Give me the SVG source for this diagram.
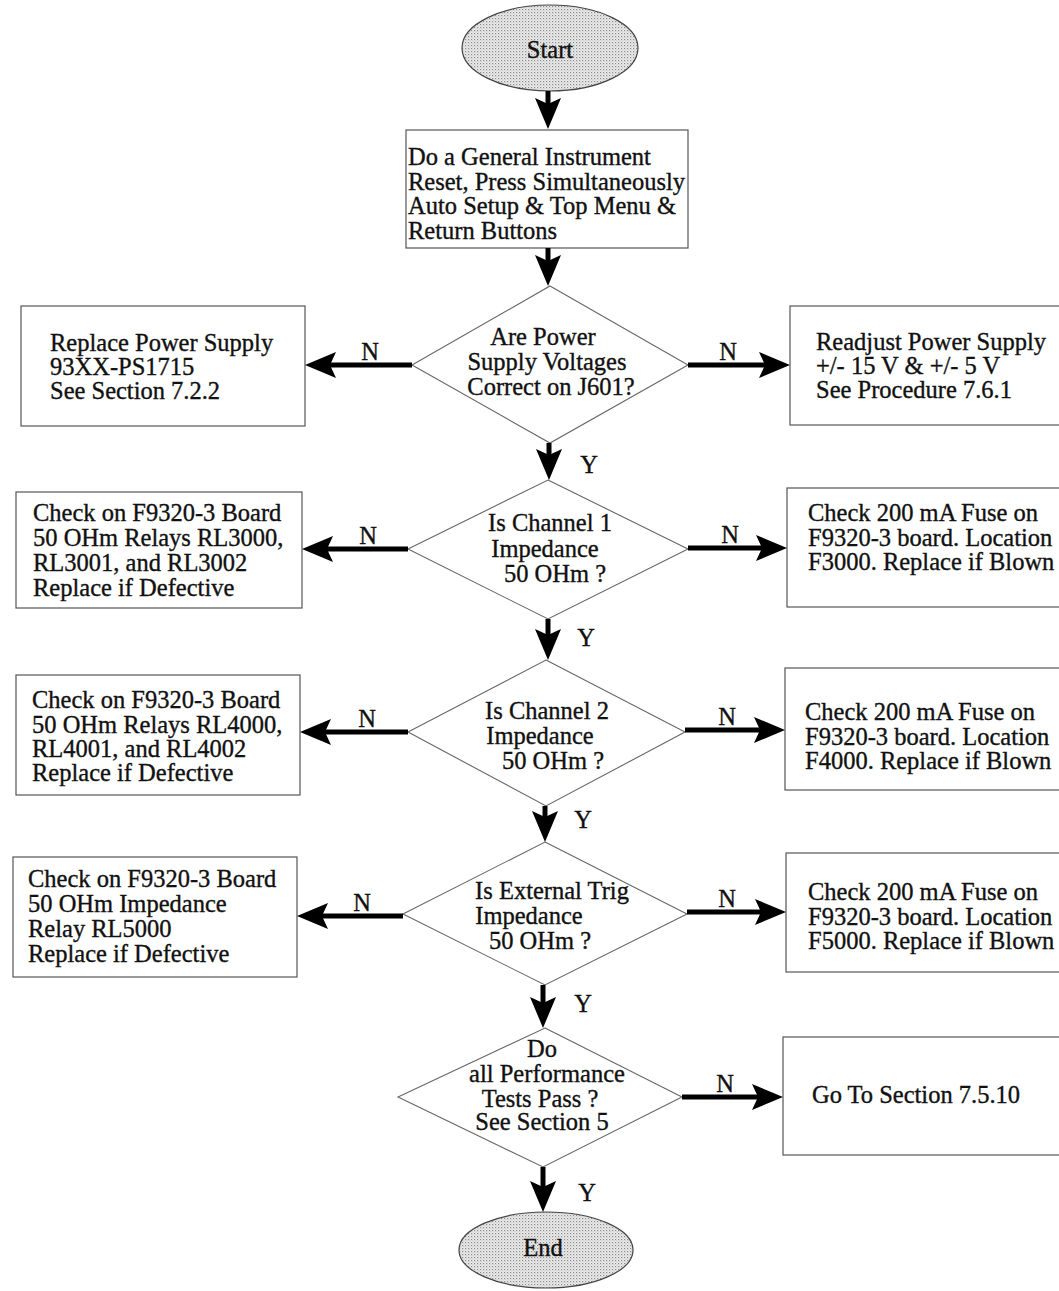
<svg xmlns="http://www.w3.org/2000/svg" width="1059" height="1291" viewBox="0 0 1059 1291">
<style>
  .t { font-family: "Liberation Serif", "Times New Roman", serif; font-size: 24.5px; fill: #111; stroke: #111; stroke-width: 0.35; }
  .c { text-anchor: middle; }
  .box { fill: #fff; stroke: #555; stroke-width: 1.2; }
  .dia { fill: #fff; stroke: #666; stroke-width: 1.1; }
  .term { fill: url(#dots); stroke: #444; stroke-width: 1.2; }
  .conn { stroke: #000; stroke-width: 5; fill: none; marker-end: url(#ah); }
  .lbl { font-family: "Liberation Serif", "Times New Roman", serif; font-size: 24.5px; fill: #111; stroke: #111; stroke-width: 0.35; text-anchor: middle; }
</style>
<defs>
  <pattern id="dots" width="3" height="3" patternUnits="userSpaceOnUse">
    <rect width="3" height="3" fill="#ececec"/>
    <rect width="1.2" height="1.2" fill="#8a8a8a"/>
    <rect x="1.5" y="1.5" width="1" height="1" fill="#b0b0b0"/>
  </pattern>
  <marker id="ah" markerUnits="userSpaceOnUse" viewBox="0 0 31 26" markerWidth="31" markerHeight="26" refX="11" refY="13" orient="auto">
    <path d="M0,0 L31,13 L0,26 L6,13 Z" fill="#000"/>
  </marker>
</defs>
<rect width="1059" height="1291" fill="#fff"/>

<g id="start">
  <ellipse class="term" cx="550" cy="48" rx="88" ry="43"/>
  <text class="t c" x="550" y="58">Start</text>
</g>

<g id="reset">
  <rect class="box" x="406" y="130" width="282" height="118"/>
  <text class="t" x="408" y="165">Do a General Instrument</text>
  <text class="t" x="408" y="190">Reset, Press Simultaneously</text>
  <text class="t" x="408" y="214">Auto Setup &amp; Top Menu &amp;</text>
  <text class="t" x="408" y="239">Return Buttons</text>
</g>

<g id="d1">
  <polygon class="dia" points="550,286 688,365 550,443 412,365"/>
  <text class="t c" x="543" y="345">Are Power</text>
  <text class="t c" x="547" y="370">Supply Voltages</text>
  <text class="t c" x="551" y="395">Correct on J601?</text>
</g>

<g id="ps-replace">
  <rect class="box" x="21" y="306" width="284" height="120"/>
  <text class="t" x="50" y="351">Replace Power Supply</text>
  <text class="t" x="50" y="375">93XX-PS1715</text>
  <text class="t" x="50" y="399">See Section 7.2.2</text>
</g>

<g id="ps-adjust">
  <rect class="box" x="790" y="306" width="275" height="119"/>
  <text class="t" x="816" y="350">Readjust Power Supply</text>
  <text class="t" x="816" y="374">+/- 15 V &amp; +/- 5 V</text>
  <text class="t" x="816" y="398">See Procedure 7.6.1</text>
</g>

<g id="d2">
  <polygon class="dia" points="548,480 688,549 548,619 408,549"/>
  <text class="t c" x="550" y="531">Is Channel 1</text>
  <text class="t c" x="545" y="557">Impedance</text>
  <text class="t c" x="555" y="582">50 OHm ?</text>
</g>

<g id="ch1-relays">
  <rect class="box" x="16" y="492" width="286" height="116"/>
  <text class="t" x="33" y="521">Check on F9320-3 Board</text>
  <text class="t" x="33" y="546">50 OHm Relays RL3000,</text>
  <text class="t" x="33" y="571">RL3001, and RL3002</text>
  <text class="t" x="33" y="596">Replace if Defective</text>
</g>

<g id="ch1-fuse">
  <rect class="box" x="787" y="488" width="280" height="119"/>
  <text class="t" x="808" y="521">Check 200 mA Fuse on</text>
  <text class="t" x="808" y="546">F9320-3 board. Location</text>
  <text class="t" x="808" y="570">F3000. Replace if Blown</text>
</g>

<g id="d3">
  <polygon class="dia" points="546,660 685,732 546,806 408,732"/>
  <text class="t c" x="547" y="719">Is Channel 2</text>
  <text class="t c" x="540" y="744">Impedance</text>
  <text class="t c" x="553" y="769">50 OHm ?</text>
</g>

<g id="ch2-relays">
  <rect class="box" x="16" y="675" width="284" height="120"/>
  <text class="t" x="32" y="708">Check on F9320-3 Board</text>
  <text class="t" x="32" y="733">50 OHm Relays RL4000,</text>
  <text class="t" x="32" y="757">RL4001, and RL4002</text>
  <text class="t" x="32" y="781">Replace if Defective</text>
</g>

<g id="ch2-fuse">
  <rect class="box" x="785" y="668" width="282" height="122"/>
  <text class="t" x="805" y="720">Check 200 mA Fuse on</text>
  <text class="t" x="805" y="745">F9320-3 board. Location</text>
  <text class="t" x="805" y="769">F4000. Replace if Blown</text>
</g>

<g id="d4">
  <polygon class="dia" points="545,842 687,914 545,985 403,914"/>
  <text class="t c" x="552" y="899">Is External Trig</text>
  <text class="t c" x="529" y="924">Impedance</text>
  <text class="t c" x="540" y="949">50 OHm ?</text>
</g>

<g id="trig-relay">
  <rect class="box" x="13" y="857" width="284" height="120"/>
  <text class="t" x="28" y="887">Check on F9320-3 Board</text>
  <text class="t" x="28" y="912">50 OHm Impedance</text>
  <text class="t" x="28" y="937">Relay RL5000</text>
  <text class="t" x="28" y="962">Replace if Defective</text>
</g>

<g id="trig-fuse">
  <rect class="box" x="786" y="853" width="280" height="119"/>
  <text class="t" x="808" y="900">Check 200 mA Fuse on</text>
  <text class="t" x="808" y="925">F9320-3 board. Location</text>
  <text class="t" x="808" y="949">F5000. Replace if Blown</text>
</g>

<g id="d5">
  <polygon class="dia" points="545,1028 682,1097 543,1167 398,1097"/>
  <text class="t c" x="542" y="1057">Do</text>
  <text class="t c" x="547" y="1082">all Performance</text>
  <text class="t c" x="540" y="1107">Tests Pass ?</text>
  <text class="t c" x="542" y="1130">See Section 5</text>
</g>

<g id="goto">
  <rect class="box" x="783" y="1037" width="285" height="118"/>
  <text class="t c" x="916" y="1103">Go To Section 7.5.10</text>
</g>

<g id="end">
  <ellipse class="term" cx="546" cy="1250" rx="87" ry="38"/>
  <text class="t c" x="543" y="1256">End</text>
</g>

<g id="connectors">
  <line class="conn" x1="548" y1="91" x2="548" y2="109"/>
  <line class="conn" x1="548" y1="248" x2="548" y2="266"/>
  <line class="conn" x1="549" y1="443" x2="549" y2="460"/>
  <line class="conn" x1="548" y1="619" x2="548" y2="640"/>
  <line class="conn" x1="545" y1="806" x2="545" y2="822"/>
  <line class="conn" x1="543" y1="985" x2="543" y2="1008"/>
  <line class="conn" x1="543" y1="1167" x2="543" y2="1192"/>

  <line class="conn" x1="412" y1="365" x2="325" y2="365"/>
  <line class="conn" x1="688" y1="365" x2="770" y2="365"/>
  <line class="conn" x1="408" y1="549" x2="322" y2="549"/>
  <line class="conn" x1="688" y1="548" x2="767" y2="548"/>
  <line class="conn" x1="408" y1="732" x2="320" y2="732"/>
  <line class="conn" x1="685" y1="730" x2="765" y2="730"/>
  <line class="conn" x1="403" y1="916" x2="317" y2="916"/>
  <line class="conn" x1="687" y1="912" x2="766" y2="912"/>
  <line class="conn" x1="682" y1="1097" x2="763" y2="1097"/>

  <g id="labels">
    <text class="lbl" x="370" y="360">N</text>
    <text class="lbl" x="728" y="360">N</text>
    <text class="lbl" x="589" y="473">Y</text>
    <text class="lbl" x="368" y="544">N</text>
    <text class="lbl" x="730" y="543">N</text>
    <text class="lbl" x="586" y="646">Y</text>
    <text class="lbl" x="367" y="727">N</text>
    <text class="lbl" x="727" y="725">N</text>
    <text class="lbl" x="583" y="828">Y</text>
    <text class="lbl" x="362" y="911">N</text>
    <text class="lbl" x="727" y="907">N</text>
    <text class="lbl" x="583" y="1012">Y</text>
    <text class="lbl" x="725" y="1092">N</text>
    <text class="lbl" x="587" y="1201">Y</text>
  </g>
</g>
</svg>
